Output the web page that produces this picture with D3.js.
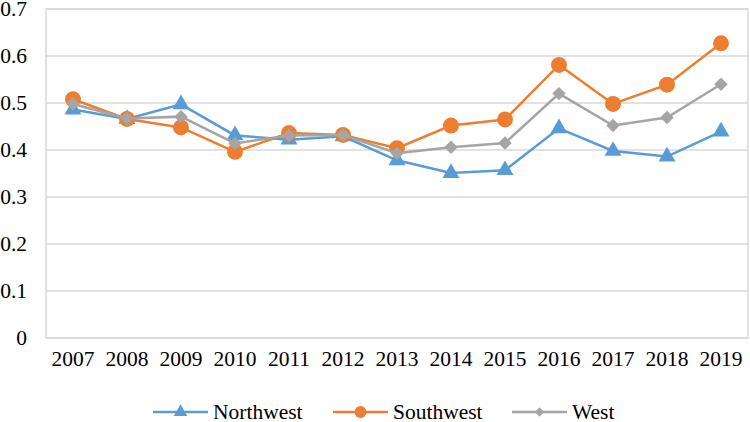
<!DOCTYPE html>
<html>
<head>
<meta charset="utf-8">
<script src="https://cdn.jsdelivr.net/npm/d3@7"></script>
<style>
  body { margin: 0; background: #fff; }
  text { font-family: "Liberation Serif", "Times New Roman", serif; fill: #000; }
</style>
</head>
<body>
<script>
var width = 750;
var height = 422;
var margin = { top: 9, right: 2, bottom: 84, left: 46 };
var w = width - margin.left - margin.right;
var h = height - margin.top - margin.bottom;

var years = ["2007", "2008", "2009", "2010", "2011", "2012", "2013", "2014", "2015", "2016", "2017", "2018", "2019"];
var northwest = [0.486, 0.466, 0.497, 0.431, 0.422, 0.429, 0.378, 0.351, 0.357, 0.446, 0.398, 0.386, 0.439];
var southwest = [0.508, 0.466, 0.448, 0.396, 0.436, 0.432, 0.404, 0.452, 0.465, 0.581, 0.498, 0.539, 0.627];
var west = [0.498, 0.467, 0.471, 0.414, 0.431, 0.432, 0.393, 0.406, 0.415, 0.520, 0.452, 0.469, 0.540];
var yTicks = [0, 0.1, 0.2, 0.3, 0.4, 0.5, 0.6, 0.7];

var series = [
    { name: "Northwest", values: northwest, color: "#5b9bd5", marker: "triangle" },
    { name: "Southwest", values: southwest, color: "#ed7d31", marker: "circle" },
    { name: "West", values: west, color: "#a5a5a5", marker: "diamond" }
];

var svg = d3.select("body").append("svg")
    .attr("width", width)
    .attr("height", height);

var chart = svg.append("g")
    .attr("transform", "translate(" + margin.left + "," + margin.top + ")");

var x = d3.scaleBand()
    .domain(years)
    .range([0, w]);

var y = d3.scaleLinear()
    .domain([0, 0.7])
    .range([h, 0]);

// gridlines
chart.append("g")
    .selectAll("line")
    .data(yTicks)
    .enter().append("line")
    .attr("x1", 0)
    .attr("x2", w)
    .attr("y1", function (d) { return y(d); })
    .attr("y2", function (d) { return y(d); })
    .style("stroke", "#d9d9d9")
    .style("stroke-width", 1.5);

// plot border
chart.append("rect")
    .attr("x", 0)
    .attr("y", 0)
    .attr("width", w)
    .attr("height", h)
    .style("fill", "none")
    .style("stroke", "#d9d9d9")
    .style("stroke-width", 1.5);

var yAxis = d3.axisLeft(y)
    .tickValues(yTicks)
    .tickSize(0)
    .tickPadding(19)
    .tickFormat(function (d) { return d === 0 ? "0" : d3.format(".1f")(d); });

chart.append("g")
    .call(yAxis)
    .call(function (g) { g.select(".domain").remove(); })
    .selectAll("text")
    .style("font-size", "21.5px")
    .style("font-family", "Liberation Serif, serif");

var xAxis = d3.axisBottom(x)
    .tickSize(0)
    .tickPadding(13);

chart.append("g")
    .attr("transform", "translate(0," + h + ")")
    .call(xAxis)
    .call(function (g) { g.select(".domain").remove(); })
    .selectAll("text")
    .style("font-size", "21.5px")
    .style("font-family", "Liberation Serif, serif");

var symbols = {
    triangle: d3.symbol().type(d3.symbolTriangle).size(125),
    circle: d3.symbol().type(d3.symbolCircle).size(200),
    diamond: d3.symbol().type(d3.symbolSquare).size(90)
};

var line = d3.line()
    .x(function (d, i) { return x(years[i]) + x.bandwidth() / 2; })
    .y(function (d) { return y(d); });

series.forEach(function (s) {
    chart.append("path")
        .datum(s.values)
        .attr("d", line)
        .style("fill", "none")
        .style("stroke", s.color)
        .style("stroke-width", 2.5);

    chart.selectAll(".m-" + s.marker)
        .data(s.values)
        .enter().append("path")
        .attr("class", "m-" + s.marker)
        .attr("d", symbols[s.marker])
        .attr("transform", function (d, i) {
            var t = "translate(" + (x(years[i]) + x.bandwidth() / 2) + "," + y(d) + ")";
            return s.marker === "diamond" ? t + " rotate(45)" : t;
        })
        .style("fill", s.color);
});

// legend
var legendX = [153, 333, 512];
var legend = svg.append("g");
series.forEach(function (s, i) {
    var g = legend.append("g")
        .attr("transform", "translate(" + legendX[i] + ",412)");
    g.append("line")
        .attr("x1", 0)
        .attr("x2", 55)
        .style("stroke", s.color)
        .style("stroke-width", 2.5);
    var sym = d3.symbol().type(s.marker === "triangle" ? d3.symbolTriangle : s.marker === "circle" ? d3.symbolCircle : d3.symbolSquare)
        .size(s.marker === "triangle" ? 80 : s.marker === "circle" ? 110 : 45);
    g.append("path")
        .attr("d", sym)
        .attr("transform", "translate(27.5,0)" + (s.marker === "diamond" ? " rotate(45)" : ""))
        .style("fill", s.color);
    g.append("text")
        .attr("x", 60)
        .attr("y", 7)
        .style("font-size", "21.5px")
        .text(s.name);
});
</script>
</body>
</html>
